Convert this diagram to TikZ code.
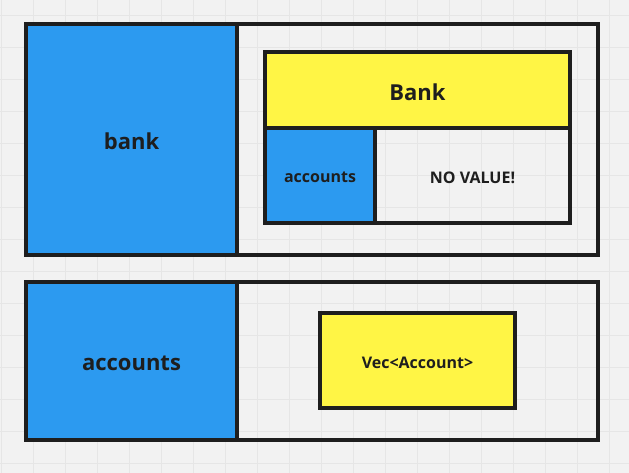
\documentclass[tikz,border=0pt]{standalone}
\usepackage{fontspec}
\setmainfont{Open Sans}
\usetikzlibrary{fit}
\definecolor{boardbg}{HTML}{F2F2F2}
\definecolor{boardgrid}{HTML}{E6E6E6}
\definecolor{edgedark}{HTML}{1E1E1E}
\definecolor{fieldblue}{HTML}{2C9AF0}
\definecolor{typeyellow}{HTML}{FFF545}
\begin{document}
\begin{tikzpicture}[
	x=0.75pt, y=-0.75pt,
	gridline/.style={boardgrid, line width=0.75pt},
	box/.style={rectangle, draw=edgedark, line width=2.4pt, inner sep=0pt},
	fieldbox/.style={box, fill=fieldblue},
	typebox/.style={box, fill=typeyellow},
	bigtext/.style={text=edgedark, yshift=-1.5pt, font=\bfseries\fontsize{16.5}{19}\selectfont},
	smalltext/.style={text=edgedark, yshift=-1.5pt, font=\bfseries\fontsize{12}{14}\selectfont},
	]
	% board
	\fill[boardbg] (0,0) rectangle (629,473);
	\useasboundingbox (0,0) rectangle (629,473);
	\foreach \gx in {1,33,...,609} \draw[gridline] (\gx,0) -- (\gx,473);
	\foreach \gy in {16,48,...,464} \draw[gridline] (0,\gy) -- (629,\gy);

	% bank variable
	\node[box, fit={(26,24) (598,255)}] (bankframe) {};
	\node[fieldbox, fit={(26,24) (237,255)}, label={[bigtext]center:bank}] (bankname) {};
	\node[typebox, fit={(265,52) (570,128)}, label={[bigtext]center:Bank}] (banktype) {};
	\node[fieldbox, fit={(265,128) (375,223)}, label={[smalltext]center:accounts}] (bankfield) {};
	\node[box, fit={(375,128) (570,223)}, label={[smalltext]center:NO VALUE!}] (bankvalue) {};

	% accounts variable
	\node[box, fit={(26,282) (598,440)}] (accframe) {};
	\node[fieldbox, fit={(26,282) (237,440)}, label={[bigtext]center:accounts}] (accname) {};
	\node[typebox, fit={(320,313) (515,408)}, label={[smalltext]center:Vec<Account>}] (acctype) {};
\end{tikzpicture}
\end{document}
